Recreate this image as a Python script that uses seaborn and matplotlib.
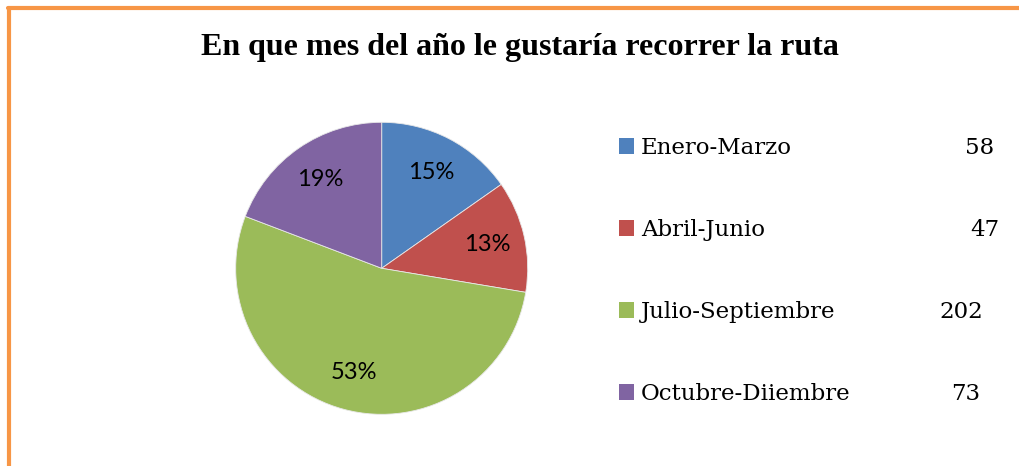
import matplotlib
matplotlib.use("Agg")
import matplotlib.pyplot as plt
import seaborn as sns
from matplotlib.patches import Patch
from matplotlib.lines import Line2D

# data
meses = ["Enero-Marzo", "Abril-Junio", "Julio-Septiembre", "Octubre-Diiembre"]
respuestas = [58, 47, 202, 73]
titulo = "En que mes del año le gustaría recorrer la ruta"

sns.set_theme(style="white")
colores = sns.color_palette(["#4F81BD", "#C0504D", "#9BBB59", "#8064A2"])

# percentages rounded so they add up to 100 (like Excel shows them)
total = sum(respuestas)
exactos = [v * 100 / total for v in respuestas]
enteros = [int(p) for p in exactos]
orden = sorted(range(len(exactos)), key=lambda i: exactos[i] - enteros[i], reverse=True)
for i in orden[:100 - sum(enteros)]:
    enteros[i] += 1
etiquetas = iter([f"{p}%" for p in enteros])

W, H = 1019, 466
fig = plt.figure(figsize=(W / 100, H / 100), dpi=100)
fig.patch.set_facecolor("white")

# pie axes (square in pixels)
cx, cy, r = 381.7, 268.3, 146
ax = fig.add_axes([(cx - r) / W, (H - cy - r) / H, 2 * r / W, 2 * r / H])
ax.pie(respuestas, colors=colores, startangle=90, counterclock=False,
       autopct=lambda p: next(etiquetas), pctdistance=0.74,
       wedgeprops=dict(edgecolor="#e8e8e8", linewidth=0.6),
       textprops=dict(fontsize=17, family=["Lato", "DejaVu Sans"], color="black"))
ax.set_xlim(-1, 1)
ax.set_ylim(-1, 1)
ax.set_aspect("equal")
ax.axis("off")

fig.text(0.51, 1 - 47 / H, titulo, ha="center", va="center", color="black",
         fontsize=23, fontweight="bold", family="Liberation Serif")

# legend
handles = [Patch(facecolor=c, edgecolor="none") for c in colores]
leg = fig.legend(handles, meses, loc="upper left",
                 bbox_to_anchor=(619 / W, 1 - 137 / H),
                 frameon=False,
                 prop=dict(family="DejaVu Serif", size=16.5),
                 handlelength=0.65, handleheight=0.65, handletextpad=0.3,
                 labelspacing=2.62, borderpad=0, borderaxespad=0)
for t in leg.get_texts():
    t.set_color("black")

# counts next to the legend rows
fig.canvas.draw()
num_x = [994, 999, 983, 980]
for n, x, t in zip(respuestas, num_x, leg.get_texts()):
    bb = t.get_window_extent()
    fig.text(x / W, (bb.y0 + bb.y1) / 2 / H, str(n), ha="right", va="center",
             fontsize=16.5, family="DejaVu Serif", color="black")

# orange frame (left and top edges)
naranja = "#F79646"
fig.add_artist(Line2D([9 / W, 9 / W], [0, 1 - 7.5 / H], color=naranja,
                      linewidth=3, transform=fig.transFigure))
fig.add_artist(Line2D([7.5 / W, 1], [1 - 7.5 / H, 1 - 7.5 / H], color=naranja,
                      linewidth=3, transform=fig.transFigure))

fig.savefig("out.png", dpi=100)
